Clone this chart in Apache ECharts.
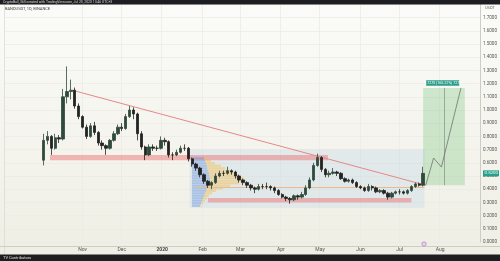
<!DOCTYPE html>
<html><head><meta charset="utf-8">
<script src="https://cdn.jsdelivr.net/npm/echarts@6/dist/echarts.min.js"></script>
<style>html,body{margin:0;padding:0;background:#f6f5ef}#c{width:500px;height:261px}</style>
</head><body><div id="c"></div><script>
const months = ['Jan','Feb','Mar','Apr','May','Jun','Jul','Aug','Sep','Oct','Nov','Dec'];
const axisStart = '2019-09-03';
const axisDays = 364;
const candleStart = '2019-10-02';
const candleStep = 3;
// [open, close, low, high]
const ohlc = [
[0.62,0.77,0.58,0.82],[0.77,0.80,0.74,0.84],[0.80,0.71,0.66,0.81],[0.71,0.79,0.70,0.82],[0.79,0.78,0.75,0.81],
[0.78,1.10,0.77,1.16],[1.10,1.14,1.05,1.33],[1.14,1.15,1.08,1.23],[1.15,1.03,1.01,1.17],[1.03,0.95,0.93,1.05],
[0.95,0.87,0.86,0.96],[0.87,0.80,0.78,0.89],[0.80,0.88,0.79,0.90],[0.88,0.83,0.81,0.91],[0.83,0.75,0.73,0.84],
[0.75,0.73,0.70,0.77],[0.73,0.71,0.66,0.74],[0.71,0.77,0.70,0.78],[0.77,0.82,0.76,0.84],[0.82,0.87,0.81,0.89],
[0.87,0.86,0.84,0.90],[0.86,0.95,0.85,0.97],[0.95,1.00,0.94,1.03],[1.00,0.97,0.93,1.02],[0.97,0.82,0.77,0.98],
[0.82,0.72,0.70,0.84],[0.72,0.66,0.62,0.73],[0.66,0.72,0.65,0.74],[0.72,0.71,0.69,0.74],[0.71,0.71,0.69,0.73],
[0.71,0.77,0.70,0.80],[0.77,0.76,0.73,0.79],[0.76,0.66,0.64,0.77],[0.66,0.66,0.62,0.68],[0.66,0.68,0.65,0.70],
[0.68,0.71,0.67,0.73],[0.71,0.71,0.69,0.74],[0.71,0.63,0.61,0.72],[0.63,0.59,0.57,0.64],[0.59,0.56,0.54,0.60],
[0.56,0.51,0.49,0.57],[0.51,0.46,0.44,0.52],[0.46,0.43,0.41,0.47],[0.43,0.45,0.40,0.46],[0.45,0.50,0.44,0.52],
[0.50,0.52,0.49,0.54],[0.52,0.52,0.50,0.54],[0.52,0.54,0.51,0.57],[0.54,0.53,0.51,0.55],[0.53,0.50,0.48,0.54],
[0.50,0.47,0.45,0.51],[0.47,0.45,0.43,0.48],[0.45,0.43,0.41,0.46],[0.43,0.41,0.39,0.44],[0.41,0.40,0.37,0.42],
[0.40,0.42,0.39,0.44],[0.42,0.42,0.40,0.44],[0.42,0.42,0.40,0.45],[0.42,0.41,0.39,0.43],[0.41,0.39,0.37,0.42],
[0.39,0.36,0.35,0.40],[0.36,0.34,0.33,0.37],[0.34,0.33,0.31,0.35],[0.33,0.32,0.29,0.34],[0.32,0.35,0.31,0.36],
[0.35,0.34,0.32,0.36],[0.34,0.36,0.33,0.38],[0.36,0.41,0.35,0.43],[0.41,0.47,0.40,0.49],[0.47,0.58,0.46,0.60],
[0.58,0.64,0.57,0.67],[0.64,0.55,0.53,0.65],[0.55,0.51,0.49,0.56],[0.51,0.52,0.49,0.54],[0.52,0.53,0.51,0.56],
[0.53,0.52,0.50,0.54],[0.52,0.48,0.47,0.53],[0.48,0.46,0.45,0.49],[0.46,0.47,0.45,0.48],[0.47,0.45,0.44,0.48],
[0.45,0.42,0.41,0.46],[0.42,0.41,0.40,0.43],[0.41,0.39,0.38,0.42],[0.39,0.42,0.38,0.44],[0.42,0.41,0.39,0.43],
[0.41,0.38,0.37,0.42],[0.38,0.39,0.37,0.40],[0.39,0.37,0.36,0.40],[0.37,0.34,0.32,0.38],[0.34,0.37,0.33,0.38],
[0.37,0.38,0.36,0.39],[0.38,0.38,0.36,0.40],[0.38,0.37,0.36,0.39],[0.37,0.39,0.36,0.40],[0.39,0.42,0.38,0.43],
[0.42,0.44,0.41,0.45],[0.44,0.43,0.42,0.45],[0.43,0.52,0.42,0.57]
];
const trendLine = [['2019-10-24',1.15],['2020-07-21',0.43]];
const supportZone = [['2019-10-07',0.66],['2020-05-07',0.62]];
const bottomZone = [['2020-02-05',0.333],['2020-07-10',0.30]];
const rangeZone = [['2020-01-22',0.70],['2020-07-20',0.26]];
const pocLine = [['2020-01-27',0.415],['2020-07-20',0.415]];
const targetZone = [['2020-07-19',1.167],['2020-08-20',0.43]];
const targetMid = [['2020-08-04',0.43],['2020-08-04',1.167]];
const projection = [['2020-07-21',0.43],['2020-07-27',0.636],['2020-08-02',0.568],['2020-08-17',1.167]];
const targetLabelPos = ['2020-08-03',1.205];
const targetLabel = '0.7270 (165.22%) 7270';
const vpLevels = [0.64,0.62,0.60,0.58,0.56,0.54,0.52,0.50,0.48,0.46,0.44,0.42,0.40,0.38,0.36,0.34,0.32,0.30,0.28,0.26];
const vpBuy  = [12,13,14,15,15,16,17,17,18,18,17,16,15,14,13,12,11,10,9,8];
const vpSell = [3,6,9,14,18,22,26,30,34,36,30,22,16,10,7,5,4,3,2,1];
const headerText = 'CryptoBull_360 created with TradingView.com, Jul 20, 2020 13:46 UTC+3';
const symbolText = 'BANDUSDT, 1D, BINANCE';
const footerText = 'TV Contributors';
const currencyText = 'USDT';

function addDays(s, n){ const d = new Date(s+'T00:00:00Z'); d.setUTCDate(d.getUTCDate()+n); return d.toISOString().slice(0,10); }
const categories = [];
for (let i=0;i<axisDays;i++) categories.push(addDays(axisStart,i));
const cmap = {};
ohlc.forEach((r,k)=>{ cmap[addDays(candleStart,k*candleStep)] = r; });
const candleData = categories.map(d => cmap[d] ? cmap[d] : '-');
const lastClose = ohlc[ohlc.length-1][1];

const isMonthStart = (idx, val) => val.slice(8)==='01' && val >= '2019-11-01';
const FONT = 'Roboto';
const pink = 'rgba(236,96,96,0.42)';

const chart = echarts.init(document.getElementById('c'), null, {renderer:'canvas'});
const option = {
  animation:false,
  backgroundColor:{type:'linear',x:0,y:0,x2:0,y2:1,colorStops:[{offset:0,color:'#fbfbf9'},{offset:1,color:'#efeee4'}]},
  textStyle:{fontFamily:FONT},
  grid:[
    {left:5, right:18, top:4.4, bottom:19},
    {left:192, top:157, width:60, height:50}
  ],
  xAxis:[
    {type:'category', data:categories, boundaryGap:true, gridIndex:0,
     axisLine:{show:false}, axisTick:{show:false},
     axisLabel:{interval:isMonthStart, margin:5, fontSize:5, color:'#555', fontFamily:FONT,
       formatter:(v)=>{const m=+v.slice(5,7); return m===1?'{b|'+v.slice(0,4)+'}':months[m-1];},
       rich:{b:{fontWeight:'bold',fontSize:5,color:'#444'}}},
     splitLine:{show:true, interval:isMonthStart, lineStyle:{color:'#ecebe3',width:0.8}}},
    {type:'value', gridIndex:1, min:0, max:60, show:false}
  ],
  yAxis:[
    {type:'value', position:'right', min:0, max:1.8, interval:0.1, gridIndex:0,
     axisLine:{show:true, lineStyle:{color:'#c4c4bc',width:0.8}}, axisTick:{show:false},
     axisLabel:{margin:3, fontSize:4.6, color:'#555', fontFamily:FONT,
       formatter:(v)=> v>1.75 ? '' : v.toFixed(4)},
     splitLine:{lineStyle:{color:'#ecebe3',width:0.8}}},
    {type:'category', gridIndex:1, data:vpLevels, inverse:true, show:false}
  ],
  series:[
    {type:'line', xAxisIndex:0, yAxisIndex:0, data:[], z:1, silent:true,
     markArea:{silent:true, data:[
       [{coord:rangeZone[0], itemStyle:{color:'rgba(120,180,232,0.14)'}},{coord:rangeZone[1]}],
       [{coord:supportZone[0], itemStyle:{color:pink}},{coord:supportZone[1]}],
       [{coord:bottomZone[0], itemStyle:{color:pink}},{coord:bottomZone[1]}]
     ]},
     markLine:{silent:true, symbol:['none','none'], label:{show:false}, data:[
       [{coord:pocLine[0], lineStyle:{color:'#ecb98f',width:1,type:'solid'}},{coord:pocLine[1]}]
     ]}},
    {type:'bar', xAxisIndex:1, yAxisIndex:1, stack:'vp', data:vpBuy, barCategoryGap:'12%', z:2,
     itemStyle:{color:'rgba(92,140,220,0.42)'}, silent:true},
    {type:'bar', xAxisIndex:1, yAxisIndex:1, stack:'vp', data:vpSell, barCategoryGap:'12%', z:2,
     itemStyle:{color:'rgba(245,190,80,0.5)'}, silent:true},
    {type:'candlestick', xAxisIndex:0, yAxisIndex:0, data:candleData, barWidth:2.9, z:5,
     itemStyle:{color:'#2f4a3b', color0:'#232323', borderColor:'#2f4a3b', borderColor0:'#232323', borderWidth:0.8}},
    {type:'line', xAxisIndex:0, yAxisIndex:0, data:[], z:6, silent:true,
     markArea:{silent:true, data:[
       [{coord:targetZone[0], itemStyle:{color:'rgba(90,185,95,0.26)'}},{coord:targetZone[1]}]
     ]},
     markLine:{silent:true, symbol:['none','none'], label:{show:false}, data:[
       [{coord:trendLine[0], lineStyle:{color:'#e4898a',width:1,type:'solid'}},{coord:trendLine[1]}],
       [{coord:targetMid[0], lineStyle:{color:'#8c9a8c',width:0.8,type:'solid'}},{coord:targetMid[1]}]
     ]},
     markPoint:{silent:true, data:[{coord:targetLabelPos, symbol:'rect', symbolSize:[33,5.5],
       itemStyle:{color:'#2a9d8a'},
       label:{show:true, position:'inside', formatter:targetLabel, fontSize:3.6, color:'#fff', fontFamily:FONT}}]}},
    {type:'line', xAxisIndex:0, yAxisIndex:0, data:projection, z:7, showSymbol:false, silent:true,
     lineStyle:{color:'#6e746e', width:0.8}}
  ]
};
chart.setOption(option);
const yLast = chart.convertToPixel({yAxisIndex:0}, lastClose);
chart.setOption({graphic:[
  {type:'rect', shape:{x:0,y:0,width:500,height:4.5}, style:{fill:'#1d1e22'}, z:100},
  {type:'text', left:3, top:0.3, style:{text:headerText, fontSize:3.4, fill:'#d8d8d8', fontFamily:FONT}, z:101},
  {type:'text', left:5, top:6.5, style:{text:symbolText, fontSize:4, fill:'#444', fontFamily:FONT}, z:101},
  {type:'text', left:485, top:6, style:{text:currencyText, fontSize:4, fill:'#666', fontFamily:FONT}, z:101},
  {type:'line', shape:{x1:0,y1:246.5,x2:500,y2:246.5}, style:{stroke:'#c4c4bc',lineWidth:0.8}, z:50},
  {type:'line', shape:{x1:4.5,y1:4.5,x2:4.5,y2:254.5}, style:{stroke:'#d4d4cc',lineWidth:0.6}, z:50},
  {type:'circle', shape:{cx:424,cy:244,r:2.2}, style:{fill:'rgba(200,160,230,0.3)',stroke:'#a56fd0',lineWidth:0.6}, z:50},
  {type:'rect', shape:{x:483,y:yLast-3,width:16,height:6}, style:{fill:'#26a08c'}, z:102},
  {type:'text', left:484.5, top:yLast-2.3, style:{text:lastClose.toFixed(4), fontSize:4.4, fill:'#fff', fontFamily:FONT}, z:103},
  {type:'rect', shape:{x:0,y:254.5,width:500,height:7}, style:{fill:'#1d1e22'}, z:100},
  {type:'text', left:3, top:255.8, style:{text:footerText, fontSize:4, fill:'#e0e0e0', fontFamily:FONT}, z:101}
]});
</script></body></html>
